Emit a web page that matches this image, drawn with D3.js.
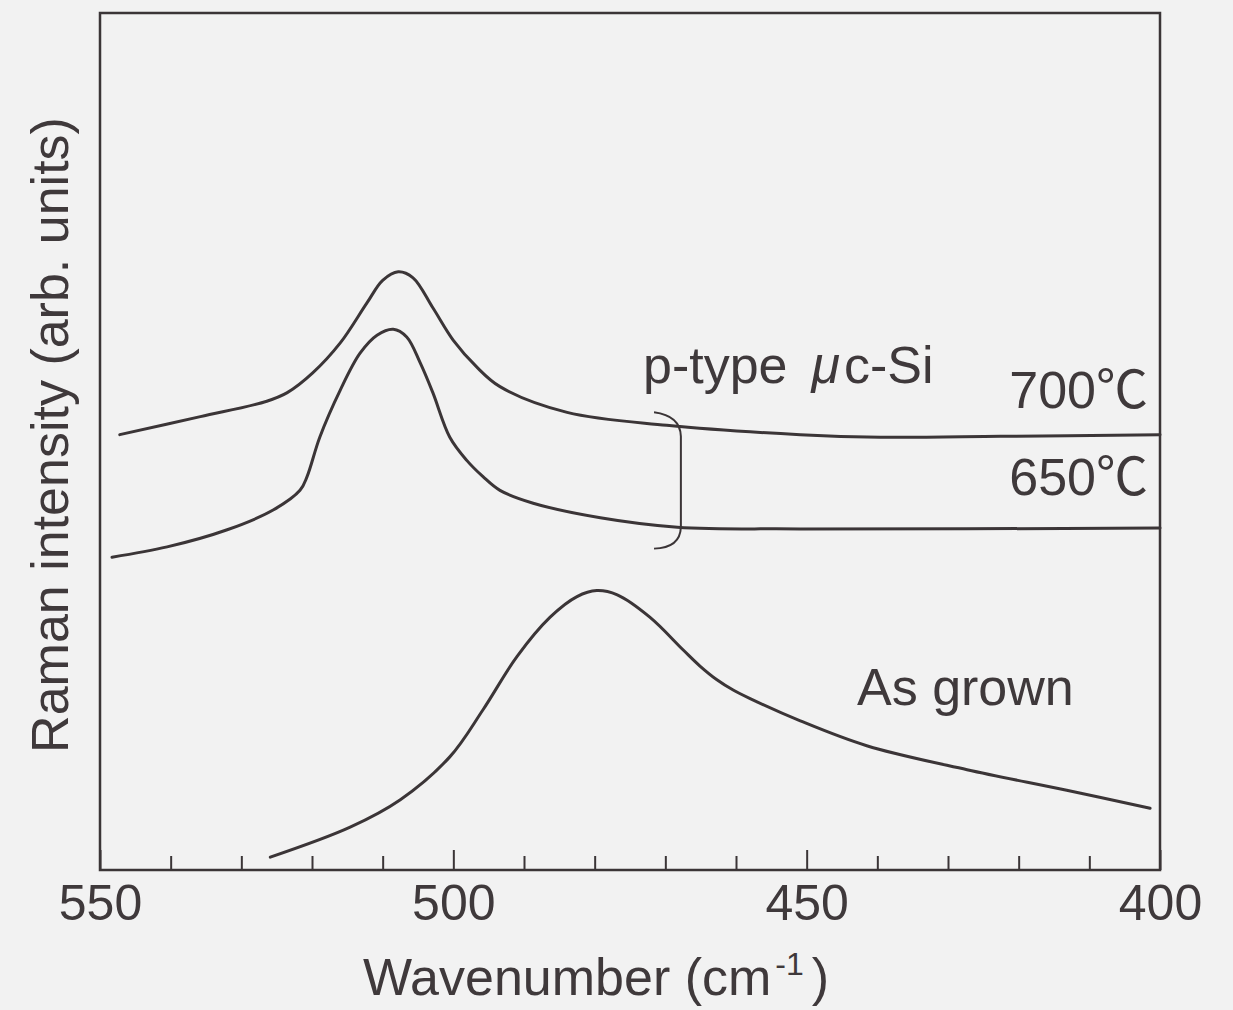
<!DOCTYPE html>
<html>
<head>
<meta charset="utf-8">
<script src="https://cdn.jsdelivr.net/npm/d3@7"></script>
<style>
  html, body { margin: 0; padding: 0; background: #f2f2f2; }
  svg { display: block; }
  text { font-family: "Liberation Sans", Arial, "Noto Sans CJK JP", sans-serif; fill: #3f393b; }
</style>
</head>
<body>
<svg id="chart"></svg>
<script>
// spectra (wavenumber in cm-1, intensity in arb. units 0..100)
const wn700 = [547.2, 535.8, 526.4, 523.5, 519.9, 516.0, 512.2, 510.0, 507.8, 505.7, 502.9, 500.0, 496.7, 493.4, 483.9, 469.8, 450.9, 439.6, 422.6, 400];
const int700 = [50.8, 52.9, 54.7, 55.7, 58.0, 61.5, 66.2, 68.8, 69.8, 69.1, 65.6, 61.8, 58.7, 56.4, 53.4, 51.9, 50.8, 50.5, 50.6, 50.8];

const wn650 = [548.3, 540.5, 532.0, 525.5, 521.7, 520.7, 518.9, 516.0, 513.2, 510.8, 508.5, 506.6, 504.7, 502.9, 500.5, 498.1, 495.8, 493.4, 488.7, 479.2, 468.3, 450.9, 400];
const int650 = [36.5, 37.7, 39.7, 42.0, 44.3, 45.9, 50.5, 56.0, 60.3, 62.4, 63.1, 62.2, 59.2, 55.7, 50.5, 47.8, 45.9, 44.3, 42.8, 41.1, 40.0, 39.8, 39.9];

const wnGrown = [525.9, 514.6, 507.5, 500.5, 495.8, 491.0, 486.3, 482.5, 479.7, 476.8, 472.2, 467.5, 465.1, 462.7, 460.4, 458.0, 450.9, 441.5, 427.3, 413.2, 401.4];
const intGrown = [1.5, 5.0, 8.2, 13.2, 18.7, 24.9, 29.5, 31.9, 32.6, 32.1, 29.5, 25.7, 23.8, 22.2, 21.0, 20.0, 17.4, 14.5, 11.7, 9.3, 7.2];

const majorTicks = [550, 500, 450, 400];
const minorTicks = [540, 530, 520, 510, 490, 480, 470, 460, 440, 430, 420, 410];

const width = 1233, height = 1010;
const margin = {left: 100, right: 73, top: 13, bottom: 140};
const ink = "#3b3537";

const svg = d3.select("#chart").attr("width", width).attr("height", height);

const x = d3.scaleLinear().domain([550, 400]).range([margin.left, width - margin.right]);
const y = d3.scaleLinear().domain([0, 100]).range([height - margin.bottom, margin.top]);

// frame
svg.append("rect")
  .attr("x", x(550)).attr("y", y(100))
  .attr("width", x(400) - x(550)).attr("height", y(0) - y(100))
  .attr("fill", "none").attr("stroke", ink).attr("stroke-width", 2.5);

// minor ticks (inward, no labels)
const minorAxis = svg.append("g")
  .attr("transform", `translate(0,${y(0)})`)
  .call(d3.axisBottom(x).tickValues(minorTicks).tickSize(-14).tickFormat(""));
minorAxis.select(".domain").remove();
minorAxis.selectAll("line").attr("stroke", ink).attr("stroke-width", 2);

// major ticks with labels
const majorAxis = svg.append("g")
  .attr("transform", `translate(0,${y(0)})`)
  .call(d3.axisBottom(x).tickValues(majorTicks).tickSize(-20).tickPadding(14).tickFormat(d3.format("d")));
majorAxis.select(".domain").remove();
majorAxis.selectAll("line").attr("stroke", ink).attr("stroke-width", 2);
majorAxis.selectAll("text").attr("font-size", 50).attr("fill", "#3f393b")
  .attr("font-family", "Liberation Sans, Arial, sans-serif");

// axis titles
const xt = svg.append("text")
  .attr("x", 596).attr("y", 995)
  .attr("text-anchor", "middle").attr("font-size", 52);
xt.append("tspan").text("Wavenumber (cm");
xt.append("tspan").text("-1").attr("font-size", 32).attr("dy", -20).attr("dx", 4);
xt.append("tspan").text(")").attr("dy", 20).attr("dx", 8);

svg.append("text")
  .attr("transform", `translate(68,${435}) rotate(-90)`)
  .attr("text-anchor", "middle").attr("font-size", 52)
  .text("Raman intensity (arb. units)");

// spectra
const line = d3.line()
  .x(d => x(d[0]))
  .y(d => y(d[1]))
  .curve(d3.curveCatmullRom.alpha(0.5));

const series = [
  d3.zip(wn700, int700),
  d3.zip(wn650, int650),
  d3.zip(wnGrown, intGrown)
];

svg.append("g").selectAll("path")
  .data(series)
  .join("path")
  .attr("d", line)
  .attr("fill", "none")
  .attr("stroke", ink)
  .attr("stroke-width", 3)
  .attr("stroke-linecap", "round");

// bracket joining the two annealed spectra
const br = d3.path();
br.moveTo(x(471.6), y(53.4));
br.quadraticCurveTo(x(467.9), y(53.0), x(467.8), y(50.6));
br.lineTo(x(467.8), y(40.0));
br.quadraticCurveTo(x(467.9), y(37.6), x(471.6), y(37.5));
svg.append("path")
  .attr("d", br.toString())
  .attr("fill", "none").attr("stroke", ink).attr("stroke-width", 2);

// labels
const lab = svg.append("text").attr("x", 643).attr("y", 383).attr("font-size", 52);
lab.append("tspan").text("p-type");
lab.append("tspan").text("μ").attr("dx", 24).attr("font-style", "italic");
lab.append("tspan").text("c-Si").attr("dx", 4);

svg.append("text").attr("x", 1148).attr("y", 408).attr("text-anchor", "end")
  .attr("font-size", 52).text("700℃");
svg.append("text").attr("x", 1148).attr("y", 495).attr("text-anchor", "end")
  .attr("font-size", 52).text("650℃");
svg.append("text").attr("x", 857).attr("y", 705)
  .attr("font-size", 52).text("As grown");
</script>
</body>
</html>
